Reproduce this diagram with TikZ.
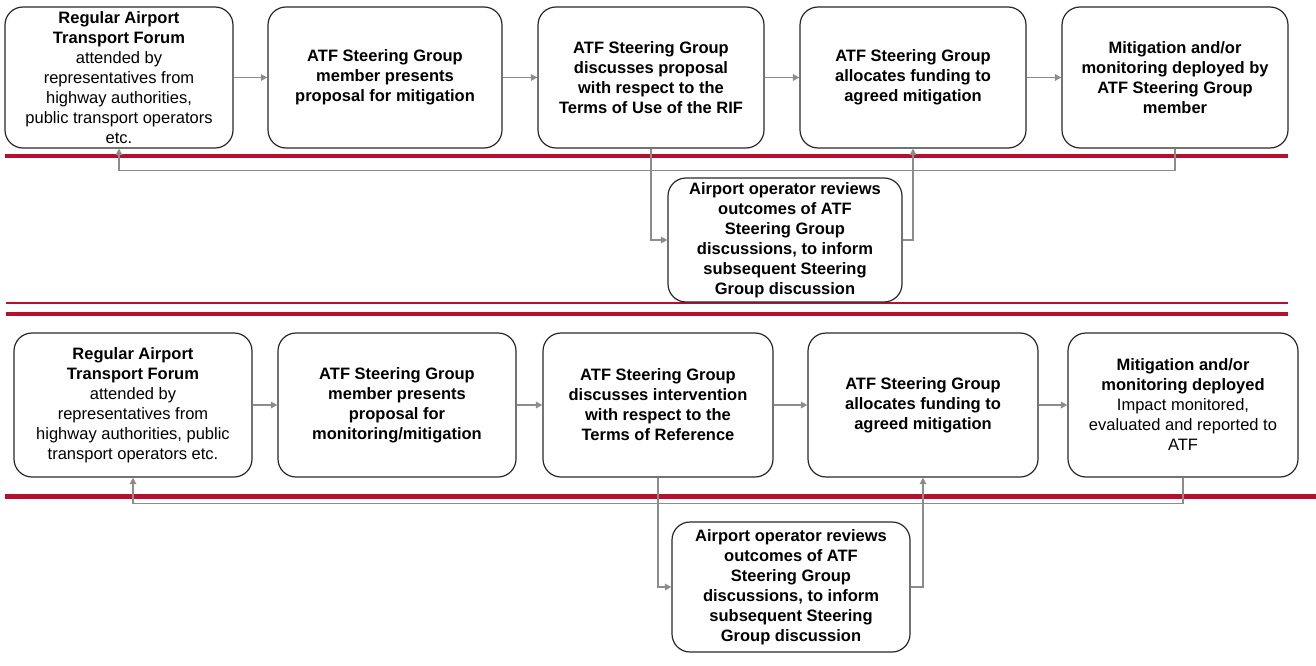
\documentclass[tikz,border=0pt]{standalone}
\usepackage{fontspec}
\setmainfont{Liberation Sans}
\usetikzlibrary{arrows.meta}
\definecolor{brandred}{RGB}{181,16,48}
\definecolor{linegray}{RGB}{140,140,140}
\definecolor{boxline}{RGB}{40,40,40}
\tikzset{
  box/.style={draw=boxline, line width=1.2pt, rounded corners=18pt, align=center,
    inner sep=0pt, fill=white, font=\fontsize{16.5}{20}\selectfont\bfseries},
  arr/.style={draw=linegray, line width=1.5pt, -{Triangle[length=6.5pt,width=6.5pt]}},
  redthick/.style={draw=brandred, line width=4pt},
}
\begin{document}
\begin{tikzpicture}[x=1pt,y=-1pt]
\useasboundingbox (0,0) rectangle (1316,666);
% red separators
\draw[redthick] (5,156) -- (1288,156);
\draw[draw=brandred, line width=1.3pt] (6,303) -- (1288,303);
\draw[draw=brandred, line width=3.5pt] (6,314) -- (1288,314);
\draw[draw=brandred, line width=5pt] (5,496) -- (1316,496);

% top panel
\node[box, minimum width=228pt, minimum height=141pt] (t1) at (119,77.5)
  {Regular Airport\\Transport Forum\\\mdseries attended by\\\mdseries representatives from\\\mdseries highway authorities,\\\mdseries public transport operators\\\mdseries etc.};
\node[box, minimum width=234pt, minimum height=141pt] (t2) at (385,77.5)
  {ATF Steering Group\\member presents\\proposal for mitigation};
\node[box, minimum width=226pt, minimum height=141pt] (t3) at (651,77.5)
  {ATF Steering Group\\discusses proposal\\with respect to the\\Terms of Use of the RIF};
\node[box, minimum width=226pt, minimum height=141pt] (t4) at (913,77.5)
  {ATF Steering Group\\allocates funding to\\agreed mitigation};
\node[box, minimum width=226pt, minimum height=141pt] (t5) at (1175,77.5)
  {Mitigation and/or\\monitoring deployed by\\ATF Steering Group\\member};
\node[box, minimum width=234pt, minimum height=124pt] (tr) at (785,240)
  {Airport operator reviews\\outcomes of ATF\\Steering Group\\discussions, to inform\\subsequent Steering\\Group discussion};

\draw[arr] (t1) -- (t2);
\draw[arr] (t2) -- (t3);
\draw[arr] (t3) -- (t4);
\draw[arr] (t4) -- (t5);
\draw[arr] (t3.south) |- (tr.west);
\draw[arr] (tr.east) -| (t4.south);
\draw[arr] (t5.south) -- ++(0,22) -| (t1.south);

% bottom panel
\node[box, minimum width=238pt, minimum height=144pt] (b1) at (133,405)
  {Regular Airport\\Transport Forum\\\mdseries attended by\\\mdseries representatives from\\\mdseries highway authorities, public\\\mdseries transport operators etc.};
\node[box, minimum width=238pt, minimum height=144pt] (b2) at (397,405)
  {ATF Steering Group\\member presents\\proposal for\\monitoring/mitigation};
\node[box, minimum width=230pt, minimum height=144pt] (b3) at (658,405)
  {ATF Steering Group\\discusses intervention\\with respect to the\\Terms of Reference};
\node[box, minimum width=230pt, minimum height=144pt] (b4) at (923,405)
  {ATF Steering Group\\allocates funding to\\agreed mitigation};
\node[box, minimum width=230pt, minimum height=144pt] (b5) at (1183,405)
  {Mitigation and/or\\monitoring deployed\\\mdseries Impact monitored,\\\mdseries evaluated and reported to\\\mdseries ATF};
\node[box, minimum width=238pt, minimum height=130pt] (br) at (791,587)
  {Airport operator reviews\\outcomes of ATF\\Steering Group\\discussions, to inform\\subsequent Steering\\Group discussion};

\draw[arr] (b1) -- (b2);
\draw[arr] (b2) -- (b3);
\draw[arr] (b3) -- (b4);
\draw[arr] (b4) -- (b5);
\draw[arr] (b3.south) |- (br.west);
\draw[arr] (br.east) -| (b4.south);
\draw[arr] (b5.south) -- ++(0,26) -| (b1.south);
\end{tikzpicture}
\end{document}
